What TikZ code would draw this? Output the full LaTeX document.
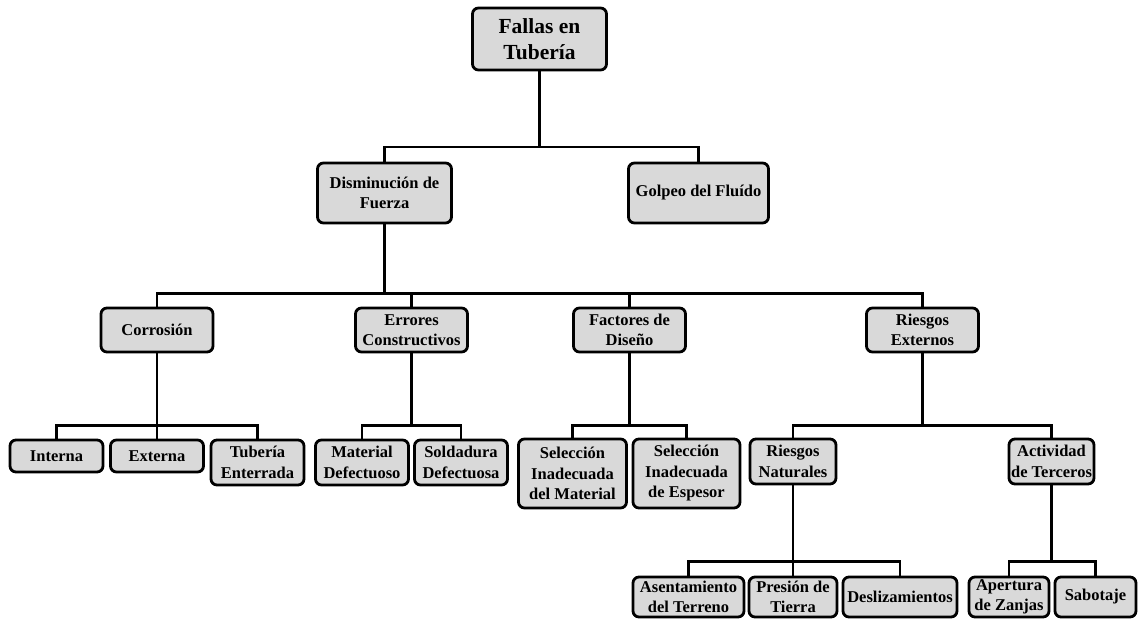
\documentclass[tikz,border=0pt]{standalone}
\usepackage{fontspec}
\setmainfont{Liberation Serif}
\tikzset{
    x=1pt, y=-1pt, % one unit is one pixel, y runs downwards
    box/.style={draw, line width=2.8pt, rounded corners=6pt, fill=black!15, align=center, inner sep=1pt, font=\bfseries\fontsize{16.5}{20.5}\selectfont}, % the grey boxes
    link/.style={line width=2.2pt}, % the connecting lines
    bus/.style={to path={-- ++(0,#1) -| (\tikztotarget)}}, % down, across, down again
}
\begin{document}
\begin{tikzpicture}
    \useasboundingbox (0,0) rectangle (1139,620);
    % level 1 and 2
    \node[box, font=\bfseries\fontsize{21.5}{26}\selectfont, minimum width=134, minimum height=62] (fallas) at (539.5,39) {Fallas en\\Tubería};
    \node[box, minimum width=134, minimum height=60] (dism) at (384.5,193) {Disminución de\\Fuerza};
    \node[box, minimum width=140, minimum height=60] (golpeo) at (698.5,193) {Golpeo del Fluído};
    % level 3
    \node[box, minimum width=112, minimum height=44] (corrosion) at (157,330) {Corrosión};
    \node[box, minimum width=112, minimum height=44] (errores) at (411.5,330) {Errores\\Constructivos};
    \node[box, minimum width=112, minimum height=44] (factores) at (629.5,330) {Factores de\\Diseño};
    \node[box, minimum width=112, minimum height=44] (rext) at (922.5,330) {Riesgos\\Externos};
    % level 4
    \node[box, minimum width=93, minimum height=32] (interna) at (56.5,456) {Interna};
    \node[box, minimum width=93, minimum height=32] (externa) at (157,456) {Externa};
    \node[box, minimum width=93, minimum height=45] (tuberia) at (257.5,462.5) {Tubería\\Enterrada};
    \node[box, minimum width=93, minimum height=45] (material) at (362,462.5) {Material\\Defectuoso};
    \node[box, minimum width=93, minimum height=45] (soldadura) at (461,462.5) {Soldadura\\Defectuosa};
    \node[box, minimum width=108, minimum height=69] (selmat) at (572.5,473.5) {Selección\\Inadecuada\\del Material};
    \node[box, minimum width=107, minimum height=69] (selesp) at (686.5,473.5) {Selección\\Inadecuada\\de Espesor};
    \node[box, minimum width=86, minimum height=45] (rnat) at (793,461.5) {Riesgos\\Naturales};
    \node[box, minimum width=85, minimum height=45] (terceros) at (1051.5,461.5) {Actividad\\de Terceros};
    % level 5
    \node[box, minimum width=111, minimum height=40] (asent) at (688.5,597) {Asentamiento\\del Terreno};
    \node[box, minimum width=88, minimum height=40] (presion) at (793,597) {Presión de\\Tierra};
    \node[box, minimum width=114, minimum height=40] (desliz) at (900,597) {Deslizamientos};
    \node[box, minimum width=80, minimum height=40] (zanjas) at (1009,597) {Apertura\\de Zanjas};
    \node[box, minimum width=81, minimum height=40] (sabotaje) at (1095.5,597) {Sabotaje};
    % connectors
    \draw[link] (fallas.south) to[bus=76] (dism.north)
                (fallas.south) to[bus=76] (golpeo.north);
    \draw[link] (dism.south) to[bus=69] (corrosion.north)
                (dism.south) to[bus=69] (errores.north)
                (dism.south) to[bus=69] (factores.north)
                (dism.south) to[bus=69] (rext.north);
    \draw[link] (corrosion.south) to[bus=72] (interna.north)
                (corrosion.south) to[bus=72] (externa.north)
                (corrosion.south) to[bus=72] (tuberia.north);
    \draw[link] (errores.south) to[bus=72] (material.north)
                (errores.south) to[bus=72] (soldadura.north);
    \draw[link] (factores.south) to[bus=72] (selmat.north)
                (factores.south) to[bus=72] (selesp.north);
    \draw[link] (rext.south) to[bus=72] (rnat.north)
                (rext.south) to[bus=72] (terceros.north);
    \draw[link] (rnat.south) to[bus=76] (asent.north)
                (rnat.south) to[bus=76] (presion.north)
                (rnat.south) to[bus=76] (desliz.north);
    \draw[link] (terceros.south) to[bus=76] (zanjas.north)
                (terceros.south) to[bus=76] (sabotaje.north);
\end{tikzpicture}
\end{document}
